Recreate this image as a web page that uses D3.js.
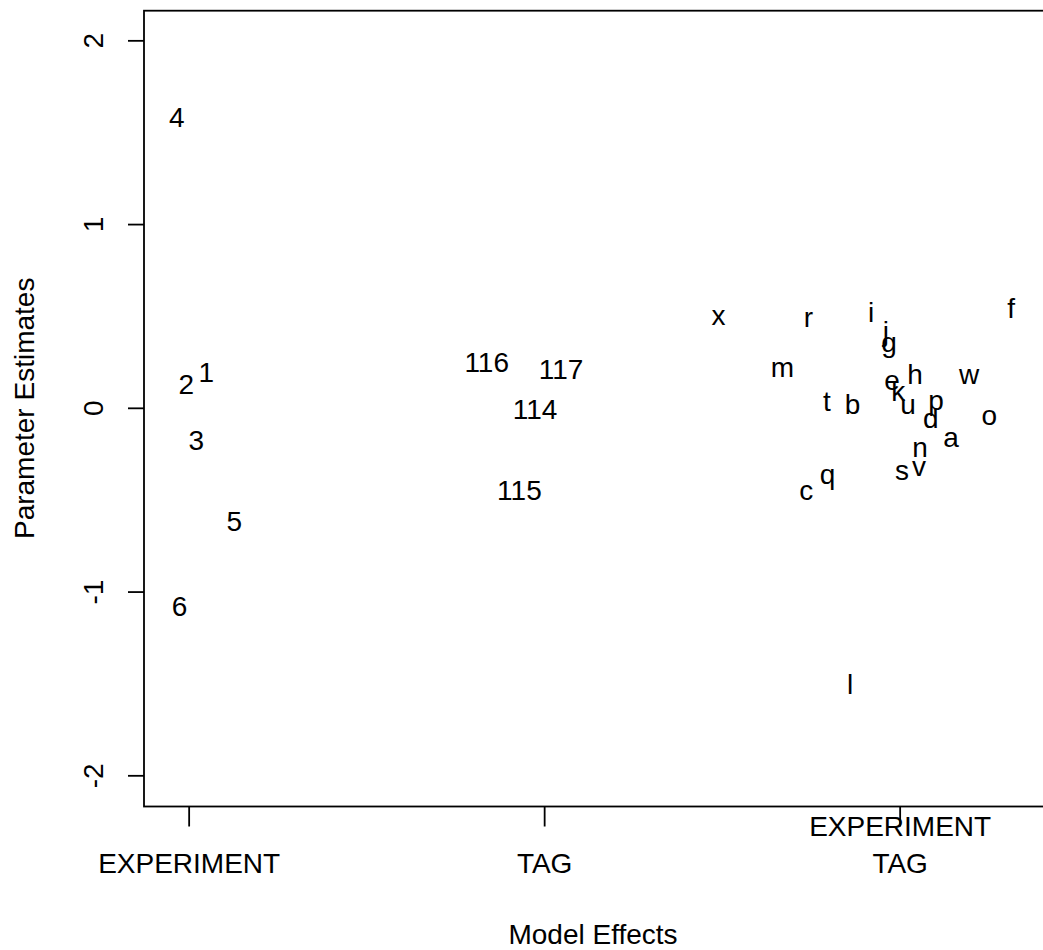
<!DOCTYPE html>
<html>
<head>
<meta charset="utf-8">
<script src="https://cdn.jsdelivr.net/npm/d3@7"></script>
<style>
  html, body { margin: 0; padding: 0; background: #fff; }
  text { font-family: "Liberation Sans", Arial, sans-serif; fill: #000; }
</style>
</head>
<body>
<div id="chart"></div>
<script>
// x-axis categories (position 1, 2, 3)
const effectNames = ["EXPERIMENT", "TAG", "EXPERIMENT\nTAG"];
const yTicks = [-2, -1, 0, 1, 2];

// plotted labels with their positions
const pointLabels = ["4", "1", "2", "3", "5", "6",
  "116", "117", "114", "115",
  "x", "r", "i", "j", "g", "f", "m", "h", "w", "e", "k", "t", "b", "u",
  "p", "d", "o", "a", "n", "s", "v", "q", "c", "l"];
const pointX = [0.965, 1.048, 0.992, 1.020, 1.127, 0.973,
  1.837, 2.046, 1.973, 1.929,
  2.489, 2.742, 2.918, 2.960, 2.969, 3.312, 2.669, 3.042, 3.194, 2.977, 2.995, 2.794, 2.866, 3.022,
  3.101, 3.086, 3.251, 3.143, 3.056, 3.005, 3.053, 2.796, 2.736, 2.859];
const pointY = [1.584, 0.195, 0.135, -0.175, -0.611, -1.077,
  0.251, 0.215, -0.003, -0.446,
  0.510, 0.498, 0.523, 0.420, 0.362, 0.547, 0.226, 0.189, 0.189, 0.153, 0.093, 0.039, 0.026, 0.026,
  0.044, -0.052, -0.038, -0.155, -0.210, -0.337, -0.315, -0.355, -0.442, -1.498];

const width = 1043, height = 950;
const margin = { left: 144, top: 10.7, bottom: 806.5 };
const fontSize = 28;
const capHalf = 10; // half of cap height, used to centre text vertically like R

const svg = d3.select("#chart").append("svg")
    .attr("width", width)
    .attr("height", height);

// scales (box runs past the right edge of the picture)
const x = d3.scaleLinear().domain([0.873, 3.52]).range([margin.left, margin.left + (3.52 - 0.873) * 355.5]);
const y = d3.scaleLinear().domain([-2.167, 2.164]).range([margin.bottom, margin.top]);

// plot frame
svg.append("rect")
    .attr("x", x(x.domain()[0]))
    .attr("y", y(y.domain()[1]))
    .attr("width", x(x.domain()[1]) - x(x.domain()[0]))
    .attr("height", y(y.domain()[0]) - y(y.domain()[1]))
    .attr("fill", "none")
    .attr("stroke", "#000")
    .attr("stroke-width", 1.8);

// y axis ticks + rotated labels
const yAxis = svg.append("g");
yAxis.selectAll("line")
    .data(yTicks)
    .join("line")
    .attr("x1", margin.left - 16).attr("x2", margin.left)
    .attr("y1", d => y(d)).attr("y2", d => y(d))
    .attr("stroke", "#000").attr("stroke-width", 1.8);
yAxis.selectAll("text")
    .data(yTicks)
    .join("text")
    .attr("transform", d => `translate(${93 + capHalf},${y(d)}) rotate(-90)`)
    .attr("text-anchor", "middle")
    .attr("font-size", fontSize)
    .text(d => d);

// x axis ticks + (multi-line) labels
const xAxis = svg.append("g");
xAxis.selectAll("line")
    .data(effectNames)
    .join("line")
    .attr("x1", (d, i) => x(i + 1)).attr("x2", (d, i) => x(i + 1))
    .attr("y1", margin.bottom).attr("y2", margin.bottom + 20)
    .attr("stroke", "#000").attr("stroke-width", 1.8);
xAxis.selectAll("text")
    .data(effectNames)
    .join("text")
    .attr("text-anchor", "middle")
    .attr("font-size", fontSize)
    .each(function (d, i) {
        const lines = d.split("\n");
        const t = d3.select(this);
        lines.forEach((ln, k) => {
            t.append("tspan")
                .attr("x", x(i + 1))
                .attr("y", 872.5 - (lines.length - 1 - k) * 36.5)
                .text(ln);
        });
    });

// axis titles
svg.append("text")
    .attr("x", 593).attr("y", 944)
    .attr("text-anchor", "middle")
    .attr("font-size", fontSize)
    .text("Model Effects");
svg.append("text")
    .attr("transform", `translate(34,${y(0)}) rotate(-90)`)
    .attr("text-anchor", "middle")
    .attr("font-size", fontSize)
    .text("Parameter Estimates");

// the labelled estimates
svg.append("g")
    .selectAll("text")
    .data(pointLabels.map((lab, i) => ({ lab, vx: pointX[i], vy: pointY[i] })))
    .join("text")
    .attr("x", d => x(d.vx))
    .attr("y", d => y(d.vy) + capHalf)
    .attr("text-anchor", "middle")
    .attr("font-size", fontSize)
    .text(d => d.lab);
</script>
</body>
</html>
